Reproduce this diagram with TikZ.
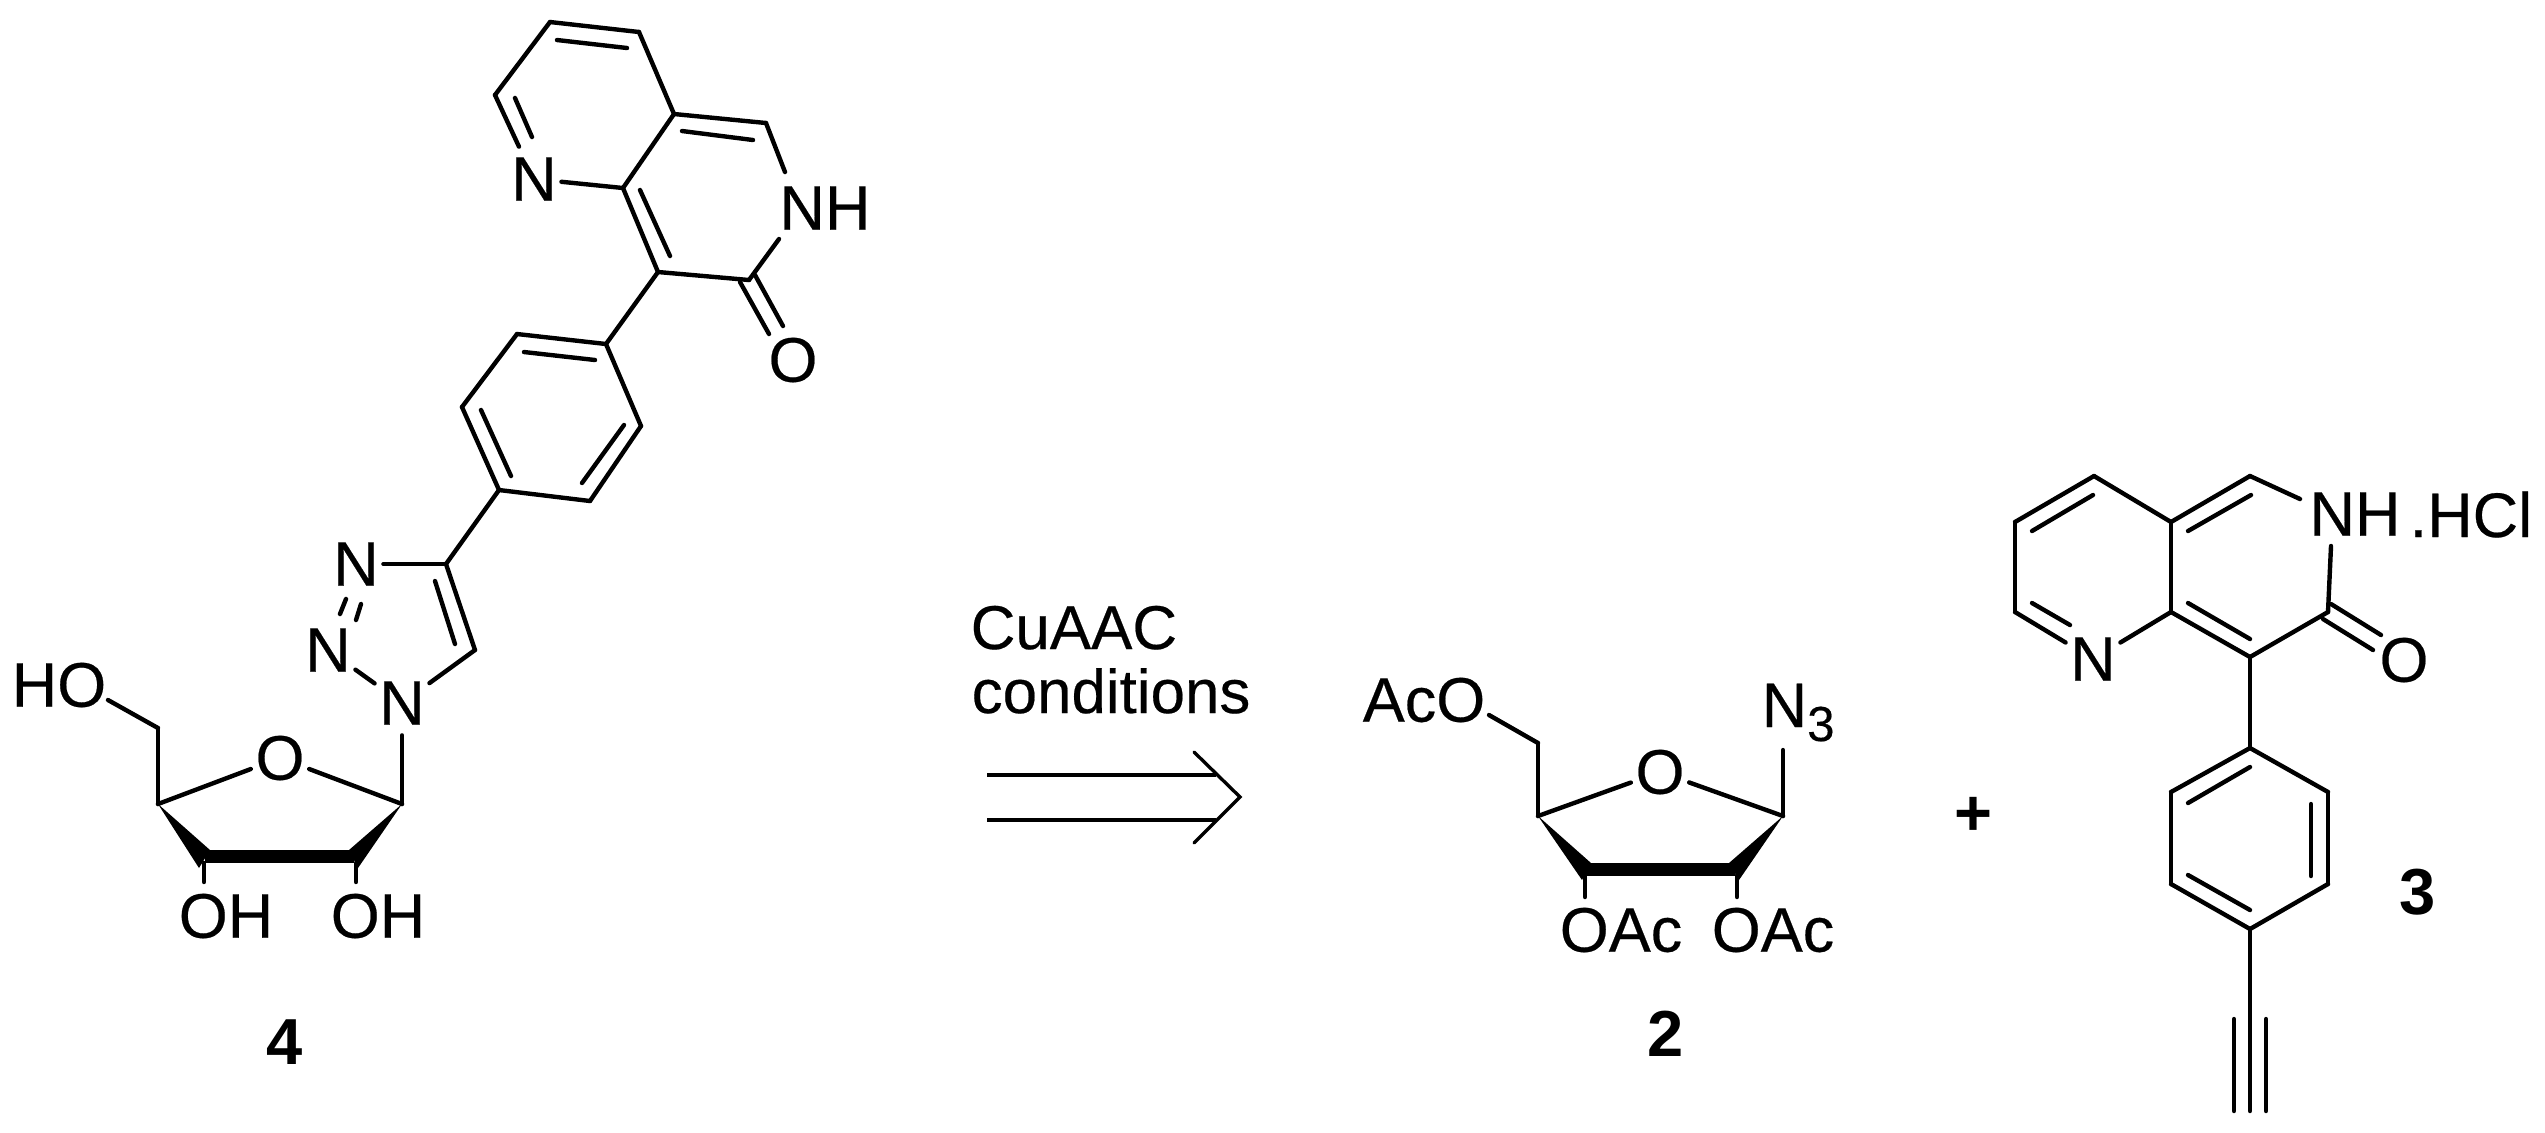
\documentclass[tikz,border=0pt]{standalone}
\usepackage{fontspec}
\setmainfont{Liberation Sans}
\newfontfamily\atomfont[FakeBold=0.35]{Liberation Sans}
\tikzset{
  bond/.style={line width=1.25pt,line cap=round},
  thinbond/.style={line width=.95pt,line cap=round},
  atom/.style={font=\atomfont\fontsize{17.9}{21}\selectfont,inner xsep=.04cm,inner ysep=.1cm},
  cond/.style={font=\atomfont\fontsize{17.6}{21}\selectfont,inner xsep=.04cm,inner ysep=.1cm},
  cmpd/.style={font=\fontsize{18.5}{21}\selectfont\bfseries,inner sep=0pt}
}
\begin{document}
\begin{tikzpicture}[x=0.01cm,y=-0.01cm]
\useasboundingbox (0,0) rectangle (2545,1132);

% compound 4
\foreach \n/\x/\y in {da/550/22,db/639/32,dc/674/114,dd/623/188,de/495/95,df/766/123,dg/749/280,dh/658/272,
    dNHa/785/172,dNHb/779/239,pa/606/344,pb/517/334,pc/462/407,pd/499/490,pe/590/501,pf/641/426,
    ta/446/564,tb/475/650,ra/402/804,rb/158/804,rc/158/728,dHO/108/700,sa/204/863,sb/356/863,dOHa/204/882,dOHb/356/882}
    \coordinate (\n) at (\x,\y);
\node[atom] (dN) at (534,179) {N};
\node[atom] (dNH) at (825,208) {NH};
\node[atom] (dO) at (793,360) {O};
\node[atom] (tN) at (356,564) {N};
\node[atom] (tNb) at (328,650) {N};
\node[atom] (tNc) at (402,703) {N};
\node[atom] (rO) at (280,758) {O};
\node[atom] (dHOl) at (59,685) {HO};
\node[atom] (dOHl) at (226,916) {OH};
\node[atom] (dOHm) at (378,916) {OH};
\node[cmpd] (c4) at (285,1042) {4};
\foreach \a/\b in {da/db,db/dc,dc/dd,dd/dN,de/dN,da/de,dc/df,df/dNHa,dNHb/dg,dg/dh,dh/dd,dh/pa,
    pa/pb,pb/pc,pc/pd,pd/pe,pe/pf,pf/pa,pd/ta,ta/tN,ta/tb,tb/tNc,tNb/tNc,tNc/ra,rO/ra,rO/rb,rb/rc,rc/dHO,sa/dOHa,sb/dOHb}
    \draw[bond] (\a)--(\b);
\foreach \x/\y/\u/\v in {557/40/627/48,515/98/532/137,682/131/753/140,640/190/670/256,740/282/769/334,755/275/783/326,
    524/352/595/360,481/410/511/476,624/425/582/483,435/581/455/644,346/599/340/614,361/604/356/620}
    \draw[bond] (\x,\y)--(\u,\v);
\fill (rb)--(210,850)--(199,868)--cycle;
\fill (ra)--(349,850)--(358,868)--cycle;
\fill (205,850) rectangle (354,863);

% arrow
\node[cond,anchor=base west] (cu) at (966,649) {CuAAC};
\node[cond,anchor=base west] (co) at (967,713) {conditions};
\coordinate (aa) at (987,775);
\coordinate (ab) at (1216,775);
\coordinate (ac) at (987,820);
\coordinate (ad) at (1216,820);
\coordinate (tip) at (1240,797);
\coordinate (ha) at (1194,752);
\coordinate (hb) at (1194,843);
\draw[line width=1.4pt] (aa)--(ab);
\draw[line width=1.4pt] (ac)--(ad);
\draw[thinbond] (ha)--(tip)--(hb);

% compound 2
\foreach \n/\x/\y in {ma/1783/816,mb/1538/816,mc/1538/743,mAc/1489/715,mN/1783/750,va/1585/875,vb/1737/875,vc/1585/897,vd/1737/897}
    \coordinate (\n) at (\x,\y);
\node[atom] (mO) at (1660,772) {O};
\node[atom] (mAcO) at (1424,700) {AcO};
\node[atom,anchor=base west] (mNN) at (1757,727) {N\raisebox{-.14cm}{\fontsize{14}{16}\selectfont 3}};
\node[atom] (mOAca) at (1621,930) {OAc};
\node[atom] (mOAcb) at (1773,930) {OAc};
\node[cmpd] (c2) at (1666,1034) {2};
\foreach \a/\b in {mO/ma,mO/mb,mb/mc,mc/mAc,ma/mN,va/vc,vb/vd}
    \draw[bond] (\a)--(\b);
\fill (mb)--(1591,863)--(1582,880)--cycle;
\fill (ma)--(1729,863)--(1739,880)--cycle;
\fill (1586,863) rectangle (1735,876);

% compound 3
\node[font=\fontsize{18.5}{21}\selectfont\bfseries,inner sep=0pt] (plus) at (1973,816) {+};
\foreach \n/\x/\y in {ea/2094/476,eb/2015/522,ec/2015/612,ed/2171/612,ee/2171/522,ef/2250/476,eg/2328/612,eh/2250/657,
    eNHa/2300/499,eNHb/2331/546,qa/2250/748,qb/2171/792,qc/2171/884,qd/2250/929,qe/2328/884,qf/2328/792,qg/2250/1111}
    \coordinate (\n) at (\x,\y);
\node[atom] (eN) at (2093,659) {N};
\node[atom] (eNH) at (2355,514) {NH};
\node[atom,anchor=base west] (eHCl) at (2405,537) {.HCl};
\node[atom] (eO) at (2404,660) {O};
\node[cmpd] (c3) at (2418,892) {3};
\foreach \a/\b in {ea/eb,eb/ec,ec/eN,eN/ed,ed/ee,ee/ea,ee/ef,ef/eNHa,eNHb/eg,eg/eh,eh/ed,eh/qa,
    qa/qb,qb/qc,qc/qd,qd/qe,qe/qf,qf/qa,qd/qg}
    \draw[bond] (\a)--(\b);
\foreach \x/\y/\u/\v in {2093/495/2032/531,2032/603/2070/625,2188/531/2251/495,2188/603/2250/639,2323/619/2373/650,2331/604/2381/635,
    2188/803/2250/767,2311/804/2311/876,2188/875/2250/910,2234/1019/2234/1111,2266/1019/2266/1111}
    \draw[bond] (\x,\y)--(\u,\v);
\end{tikzpicture}
\end{document}
